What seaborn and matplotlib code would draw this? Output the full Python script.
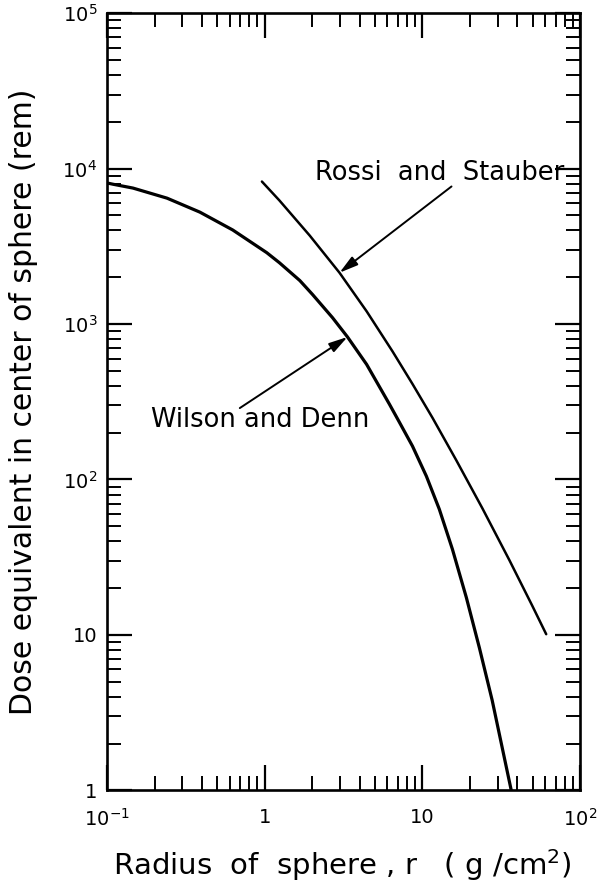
import numpy as np
import pandas as pd
import seaborn as sns
import matplotlib.pyplot as plt
from matplotlib.ticker import FixedLocator, FixedFormatter, LogLocator, NullFormatter

# Wilson and Denn curve (radius g/cm^2, dose rem)
wilson_r = [0.1, 0.109, 0.146, 0.24, 0.388, 0.627, 1.03, 1.24, 1.67, 2.01, 2.69,
            3.35, 4.43, 6.18, 7.14, 8.65, 10.6, 12.8, 15.5, 19.0, 23.0, 27.7, 36.6]
wilson_dose = [8090, 7940, 7500, 6460, 5250, 4030, 2880, 2480, 1905, 1550, 1100,
               826, 550, 305, 234, 164, 105, 64.4, 35.6, 17.4, 8.24, 3.8, 1.0]

# Rossi and Stauber curve
rossi_r = [0.96, 1.24, 1.93, 2.98, 4.43, 6.46, 8.65, 11.6, 16.4, 24.0, 35.6, 49.6, 61.0]
rossi_dose = [8260, 6240, 3710, 2140, 1208, 668, 412, 249, 133, 65.3, 30.3, 15.5, 10.1]

x_ticks = [0.1, 1, 10, 100]
x_labels = ["$10^{-1}$", "1", "10", "$10^{2}$"]
y_ticks = [1, 10, 100, 1000, 1e4, 1e5]
y_labels = ["1", "10", "$10^{2}$", "$10^{3}$", "$10^{4}$", "$10^{5}$"]

wilson = pd.DataFrame({"r": wilson_r, "dose": wilson_dose})
rossi = pd.DataFrame({"r": rossi_r, "dose": rossi_dose})

sns.set_style("ticks")
plt.rcParams['font.family'] = ['DejaVu Sans']
plt.rcParams.update({"text.color": "black", "axes.labelcolor": "black",
                     "xtick.color": "black", "ytick.color": "black"})

fig = plt.figure(figsize=(5.98, 8.83), dpi=100)
ax = fig.add_axes([0.179, 0.105, 0.791, 0.880])

sns.lineplot(data=wilson, x="r", y="dose", ax=ax, color="black", lw=2.3, sort=False)
sns.lineplot(data=rossi, x="r", y="dose", ax=ax, color="black", lw=1.8, sort=False)

ax.set_xscale("log")
ax.set_yscale("log")
ax.set_xlim(0.1, 100)
ax.set_ylim(1, 1e5)

ax.xaxis.set_major_locator(FixedLocator(x_ticks))
ax.xaxis.set_major_formatter(FixedFormatter(x_labels))
ax.yaxis.set_major_locator(FixedLocator(y_ticks))
ax.yaxis.set_major_formatter(FixedFormatter(y_labels))
for axis in (ax.xaxis, ax.yaxis):
    axis.set_minor_locator(LogLocator(base=10, subs=np.arange(2, 10), numticks=20))
    axis.set_minor_formatter(NullFormatter())

ax.tick_params(which="both", direction="in", top=True, right=True)
ax.tick_params(which="major", length=18, width=1.6, labelsize=14)
ax.tick_params(which="minor", length=10, width=1.4)
ax.tick_params(axis="x", which="major", pad=13)
ax.tick_params(axis="y", which="major", pad=7)

for s in ax.spines.values():
    s.set_linewidth(1.9)
    s.set_color("black")

ax.set_xlabel("Radius  of  sphere , r   ( g /cm$^2$)", fontsize=21)
ax.set_ylabel("Dose equivalent in center of sphere (rem)", fontsize=21.5)
ax.xaxis.set_label_coords(0.497, -0.073)
ax.yaxis.set_label_coords(-0.145, 0.5)

arrow = dict(arrowstyle="-|>,head_length=0.8,head_width=0.22", color="black",
             lw=1.4, mutation_scale=14, shrinkA=0, shrinkB=0)

ax.text(12.8, 8510, "Rossi  and  Stauber", fontsize=18.5, ha="center", va="baseline")
ax.annotate("", xy=(2.98, 2140), xytext=(15.3, 7680), arrowprops=arrow)

ax.text(0.93, 218, "Wilson and Denn", fontsize=18.5, ha="center", va="baseline")
ax.annotate("", xy=(3.35, 826), xytext=(0.695, 288), arrowprops=arrow)

fig.savefig("out.png", dpi=100)
